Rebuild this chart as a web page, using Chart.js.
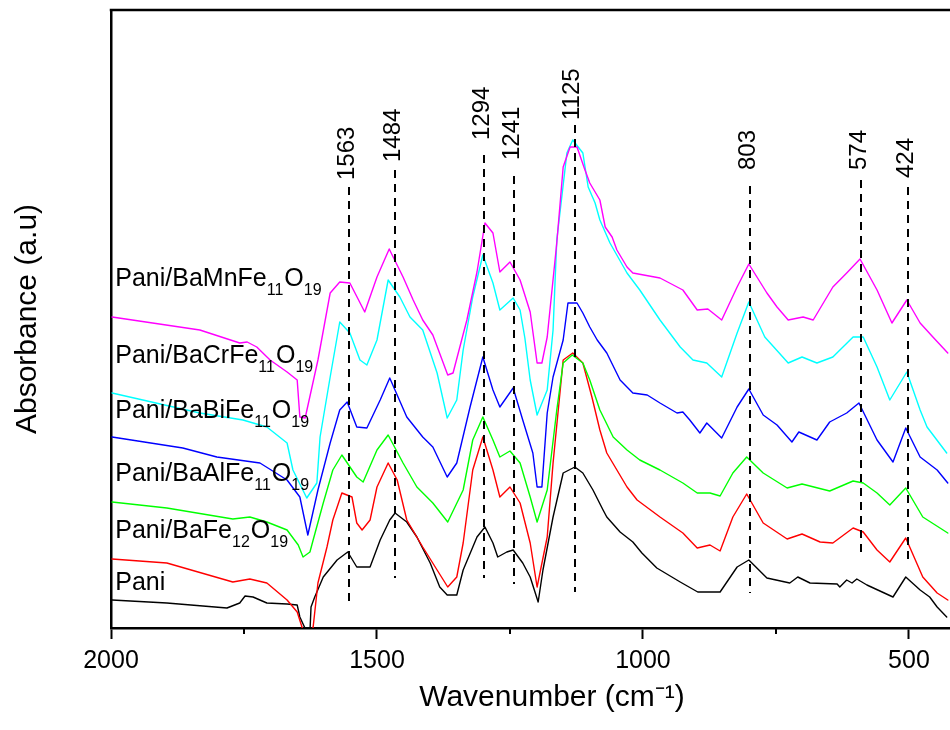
<!DOCTYPE html>
<html><head><meta charset="utf-8">
<script src="https://cdn.jsdelivr.net/npm/chart.js@4.4.1/dist/chart.umd.min.js"></script>
<style>
html,body{margin:0;padding:0;overflow:hidden;background:#fff;width:950px;height:730px;}
#wrap{width:993px;height:730px;position:relative;}
canvas{display:block;}
</style></head><body>
<div id="wrap"><canvas id="c" width="993" height="730"></canvas></div>
<script>
// ---- series names (top to bottom) and colours
const seriesNames = ['Pani/BaMnFe11O19','Pani/BaCrFe11O19','Pani/BaBiFe11O19','Pani/BaAlFe11O19','Pani/BaFe12O19','Pani'];
const seriesColors = ['#ff00ff','#00ffff','#0000ff','#00ff00','#ff0000','#000000'];

// ---- spectra: wavenumber (cm-1) and absorbance (a.u., offset stacked)
const mnWn = [1998,1833,1758,1744,1726,1701,1669,1650,1645,1635,1611,1588,1570,1551,1523,1500,1477,1451,1432,1414,1395,1367,1357,1331,1312,1297,1282,1269,1250,1231,1212,1199,1190,1180,1162,1150,1137,1124,1109,1100,1081,1071,1058,1049,1030,1019,968,925,898,878,852,823,801,767,748,727,699,680,643,617,592,560,532,504,479,455,427];
const mnAbs = [311,298,285,286,281,268,256,248,211,210,268,335,346,345,316,351,379,351,328,308,293,253,255,308,356,405,395,356,366,348,316,265,265,291,385,461,481,481,458,445,428,401,391,378,361,355,350,338,318,319,308,341,364,335,321,308,311,308,341,355,369,338,305,328,305,291,275];

const crWn = [1998,1833,1752,1707,1669,1658,1632,1613,1607,1588,1570,1551,1532,1519,1500,1479,1457,1438,1414,1387,1368,1350,1338,1320,1301,1282,1269,1244,1231,1222,1212,1199,1180,1169,1162,1143,1132,1113,1103,1090,1081,1062,1030,1006,968,930,906,880,852,823,801,771,727,701,673,643,605,586,560,536,504,479,466,429];
const crAbs = [235,215,208,201,185,158,130,145,191,251,306,295,268,263,288,348,331,311,298,255,210,228,278,331,373,345,318,330,318,290,248,213,238,298,388,475,488,475,441,425,408,385,355,338,308,281,268,265,251,295,326,291,265,271,265,271,291,291,261,228,256,218,201,175];

const biWn = [1998,1865,1801,1720,1669,1645,1630,1611,1588,1570,1556,1538,1519,1494,1476,1444,1414,1395,1368,1350,1325,1301,1282,1269,1244,1226,1207,1199,1190,1180,1169,1150,1141,1124,1113,1100,1086,1068,1043,1019,992,968,936,925,912,893,880,852,823,801,774,748,720,707,673,649,617,594,560,530,506,479,447,427];
const biAbs = [191,180,171,165,148,131,93,138,185,218,226,201,200,228,250,211,191,181,151,165,221,271,238,221,240,208,175,141,141,215,251,288,325,325,315,301,288,275,248,235,233,225,215,216,208,195,205,190,221,239,213,203,186,196,188,206,215,225,188,166,200,171,158,145];

const alWn = [1998,1895,1771,1739,1707,1669,1648,1639,1626,1620,1601,1583,1566,1538,1526,1500,1479,1451,1425,1395,1367,1338,1320,1301,1282,1269,1250,1231,1212,1199,1180,1162,1150,1133,1113,1100,1081,1056,1030,1006,968,925,898,874,855,831,805,774,729,701,649,605,586,560,536,506,474,427];
const alAbs = [126,120,109,111,106,98,83,71,76,88,125,158,173,151,146,178,193,165,141,125,106,138,188,211,188,171,177,165,131,106,138,218,265,273,265,248,218,191,178,168,158,145,135,135,132,155,171,155,140,144,137,147,145,135,123,140,111,95];

const feWn = [1998,1895,1771,1739,1707,1669,1650,1641,1638,1622,1620,1611,1594,1583,1566,1547,1538,1528,1513,1500,1479,1462,1444,1414,1387,1367,1350,1338,1320,1301,1282,1269,1250,1231,1212,1199,1180,1169,1150,1132,1113,1096,1081,1068,1049,1030,1011,968,925,898,874,855,831,805,774,729,701,667,643,605,586,560,536,506,474,447,427];
const feAbs = [69,65,46,49,45,28,16,1,-4,-4,1,45,81,108,135,131,105,98,108,141,165,148,108,81,58,41,51,85,158,191,158,131,141,125,85,41,91,165,268,275,265,231,198,175,158,141,128,111,95,80,83,77,111,134,105,89,94,86,85,100,96,78,66,90,51,35,28];

const paWn = [1998,1895,1782,1758,1748,1733,1707,1669,1650,1645,1632,1626,1624,1617,1601,1575,1555,1538,1513,1494,1476,1466,1444,1425,1400,1382,1368,1350,1338,1312,1297,1282,1273,1256,1244,1226,1212,1197,1188,1169,1150,1128,1113,1094,1075,1068,1043,1019,1002,974,930,897,855,823,801,767,724,709,686,635,630,617,607,598,579,530,506,479,461,447,429];
const paAbs = [28,25,20,25,32,31,25,24,23,11,-4,-4,21,31,51,68,76,61,61,88,108,115,106,91,65,41,33,33,58,91,101,85,71,76,78,65,51,26,58,111,155,161,155,138,118,111,96,86,75,60,46,36,36,61,68,50,45,51,45,44,41,48,45,49,43,31,51,38,31,21,11];

const seriesWn = [mnWn, crWn, biWn, alWn, feWn, paWn];
const seriesAbs = [mnAbs, crAbs, biAbs, alAbs, feAbs, paAbs];

// ---- peak markers
const peakLabels = ['1563','1484','1294','1241','1125','803','574','424'];
const peakWn = [1552,1466,1299,1242,1128,799,590,502];
const peakDashTop = [441,458,473,452,503,442,448,441];
const peakDashBottom = [23,50,50,44,36,35,71,63];
const peakLabelBase = [448,466,488,468,508,458,458,450];

// ---- series label anchors
const seriesLabelWn = 1992;
const seriesLabelAbs = [342,265,210,147,90,38];

// ---- axes
const xRange = [2000, 342];
const yRange = [0, 618];
const xMajorTicks = [2000,1500,1000,500];
const xMinorTicks = [1750,1250,750];

const FONT = '"Liberation Sans", Arial, Helvetica, sans-serif';
Chart.defaults.font.family = FONT;
Chart.defaults.color = '#000';

const datasets = seriesNames.map((name, i) => ({
  label: name,
  data: seriesWn[i].map((w, k) => ({x: w, y: seriesAbs[i][k]})),
  borderColor: seriesColors[i],
  backgroundColor: seriesColors[i],
  borderWidth: 1.4,
  pointRadius: 0,
  tension: 0,
  fill: false
}));

const overlay = {
  id: 'overlay',
  afterDatasetsDraw(chart) {
    const {ctx, chartArea, scales: {x, y}} = chart;
    ctx.save();
    // dashed peak lines
    ctx.strokeStyle = '#000';
    ctx.lineWidth = 2;
    ctx.setLineDash([8, 6]);
    peakWn.forEach((w, i) => {
      const px = Math.round(x.getPixelForValue(w));
      ctx.beginPath();
      ctx.moveTo(px, y.getPixelForValue(peakDashTop[i]));
      ctx.lineTo(px, y.getPixelForValue(peakDashBottom[i]));
      ctx.stroke();
    });
    ctx.setLineDash([]);
    // peak labels (rotated)
    ctx.fillStyle = '#000';
    ctx.font = '24px ' + FONT;
    peakLabels.forEach((t, i) => {
      ctx.save();
      ctx.translate(x.getPixelForValue(peakWn[i]) - 2, y.getPixelForValue(peakLabelBase[i]));
      ctx.rotate(-Math.PI / 2);
      ctx.textAlign = 'left';
      ctx.textBaseline = 'middle';
      ctx.fillText(t, 0, 0);
      ctx.restore();
    });
    // series labels with subscripts
    ctx.textAlign = 'left';
    ctx.textBaseline = 'alphabetic';
    seriesNames.forEach((name, i) => {
      let px = x.getPixelForValue(seriesLabelWn);
      const py = y.getPixelForValue(seriesLabelAbs[i]);
      name.split(/(\d+)/).forEach((part, k) => {
        if (!part) return;
        const sub = k % 2 === 1;
        ctx.font = (sub ? '16px ' : '25px ') + FONT;
        ctx.fillText(part, px, sub ? py + 9 : py);
        px += ctx.measureText(part).width + (sub ? 1 : 0);
      });
    });
    // top frame line
    ctx.lineWidth = 2.5;
    ctx.beginPath();
    ctx.moveTo(chartArea.left - 1.25, chartArea.top);
    ctx.lineTo(chartArea.right, chartArea.top);
    ctx.stroke();
    // minor ticks
    ctx.lineWidth = 2;
    xMinorTicks.forEach(v => {
      const px = Math.round(x.getPixelForValue(v));
      ctx.beginPath();
      ctx.moveTo(px, chartArea.bottom);
      ctx.lineTo(px, chartArea.bottom + 6);
      ctx.stroke();
    });
    ctx.restore();
  }
};

new Chart(document.getElementById('c'), {
  type: 'line',
  data: {datasets},
  options: {
    responsive: false,
    animation: false,
    devicePixelRatio: 1,
    layout: {padding: {top: 10, left: 0, right: 0, bottom: 0}},
    plugins: {legend: {display: false}, tooltip: {enabled: false}},
    elements: {line: {borderCapStyle: 'round', borderJoinStyle: 'round'}},
    scales: {
      x: {
        type: 'linear',
        reverse: true,
        min: xRange[1],
        max: xRange[0],
        afterBuildTicks: s => { s.ticks = xMajorTicks.map(v => ({value: v})); },
        afterFit: s => { s.height = 102; },
        grid: {display: true, drawOnChartArea: false, drawTicks: true, tickLength: 11, tickWidth: 2, tickColor: '#000'},
        border: {display: true, color: '#000', width: 2.5},
        ticks: {color: '#000', font: {size: 25, family: FONT}, padding: 7, maxRotation: 0, autoSkip: false, callback: v => String(v)},
        title: {display: true, text: 'Wavenumber (cm⁻¹)', color: '#000', font: {size: 30, family: FONT}, padding: {top: 0, bottom: 14}}
      },
      y: {
        type: 'linear',
        min: yRange[0],
        max: yRange[1],
        afterFit: s => { s.width = 111; },
        ticks: {display: false},
        grid: {display: false, drawTicks: false},
        border: {display: true, color: '#000', width: 2.5},
        title: {display: true, text: 'Absorbance (a.u)', color: '#000', font: {size: 30, family: FONT}, padding: {top: 10, bottom: 0}}
      }
    }
  },
  plugins: [overlay]
});
</script>
</body></html>
